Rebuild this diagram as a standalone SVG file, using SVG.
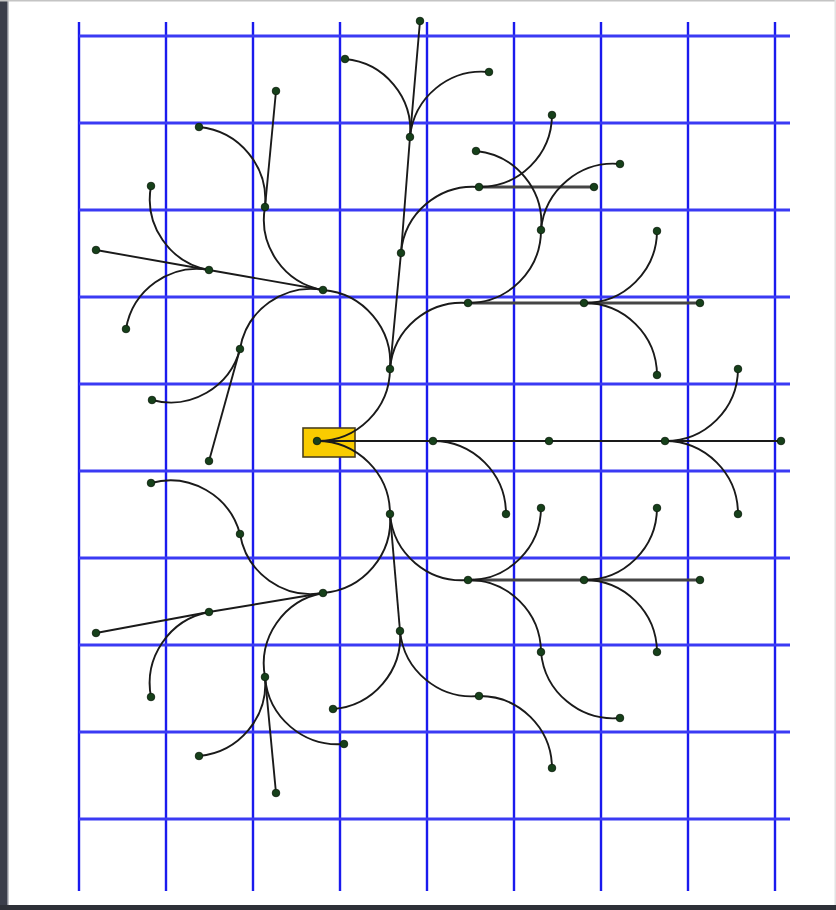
<svg xmlns="http://www.w3.org/2000/svg" width="836" height="910" viewBox="0 0 836 910">
<style>
.gv{stroke:#1a1aee;stroke-width:2.4;fill:none}
.gh{stroke:#3a3af4;stroke-width:2.8;fill:none}
.e{fill:none;stroke:#1a1a1a;stroke-width:1.9}
.t{fill:none;stroke:#454545;stroke-width:2.8}
.n{fill:#16401a;stroke:#0a1a0a;stroke-width:0.8}
</style>
<rect x="0" y="0" width="836" height="910" fill="#ffffff"/>
<rect x="0" y="0" width="8" height="910" fill="#3b3e4b"/>
<rect x="7" y="0" width="1.5" height="905" fill="#8a8c96"/>
<rect x="0" y="905" width="836" height="5" fill="#2e3038"/>
<rect x="0" y="0" width="836" height="1.5" fill="#c4c4c4"/>
<rect x="834.5" y="0" width="1.5" height="905" fill="#e2e2e2"/>
<g id="grid">
<path class="gv" d="M79,22V891M166,22V891M253,22V891M340,22V891M427,22V891M514,22V891M601,22V891M688,22V891M775,22V891"/>
<path class="gh" d="M79,36H790M79,123H790M79,210H790M79,297H790M79,384H790M79,471H790M79,558H790M79,645H790M79,732H790M79,819H790"/>
</g>
<g id="root">
<rect x="303" y="428" width="52" height="29" fill="#f9cc00" stroke="#4a4020" stroke-width="1.6"/>
</g>
<g id="connectors">
<path class="e" d="M317,441H433M433,441H549M549,441H665M665,441H781"/>
<path class="e" d="M390,369L401,253M401,253L410,137M410,137L420,21"/>
<path class="t" d="M479,187H594"/>
<path class="t" d="M468,303H584M584,303H700"/>
<path class="e" d="M323,290L209,270M209,270L96,250"/>
<path class="e" d="M265,207L276,91"/>
<path class="e" d="M240,349L209,461"/>
<path class="e" d="M390,514L400,631"/>
<path class="e" d="M323,593L209,612M209,612L96,633"/>
<path class="e" d="M265,677L276,793"/>
<path class="t" d="M468,580H584M584,580H700"/>
<path class="e" d="M317,441C357,441.3 389.7,409 390,369"/>
<path class="e" d="M317,441C357.3,441 390,473.7 390,514"/>
<path class="e" d="M390,369C393.3,328.7 363.3,293.3 323,290"/>
<path class="e" d="M390,369C393.3,329.2 428.2,299.7 468,303"/>
<path class="e" d="M401,253C404.3,213.2 439.2,183.7 479,187"/>
<path class="e" d="M410,137C413.6,97.5 384.5,62.6 345,59"/>
<path class="e" d="M410,137C413.9,97.2 449.2,68.1 489,72"/>
<path class="e" d="M479,187C519,187.3 551.7,155 552,115"/>
<path class="e" d="M468,303C508.3,303 541,270.3 541,230"/>
<path class="e" d="M541,230C544.9,190.2 515.8,154.9 476,151"/>
<path class="e" d="M541,230C544.6,190 580,160.4 620,164"/>
<path class="e" d="M584,303C624,303.3 656.7,271 657,231"/>
<path class="e" d="M584,303C624,302.7 656.7,335 657,375"/>
<path class="e" d="M323,290C284.1,283.1 258.1,245.9 265,207"/>
<path class="e" d="M323,290C283.8,283.4 246.6,309.8 240,349"/>
<path class="e" d="M265,207C268.9,166.7 239.3,130.9 199,127"/>
<path class="e" d="M209,270C169.8,262.8 143.8,225.2 151,186"/>
<path class="e" d="M209,270C169.8,263.4 132.6,289.8 126,329"/>
<path class="e" d="M240,349C229.8,387.4 190.4,410.2 152,400"/>
<path class="e" d="M433,441C473.3,441 506,473.7 506,514"/>
<path class="e" d="M665,441C705,441.3 737.7,409 738,369"/>
<path class="e" d="M665,441C705.3,441 738,473.7 738,514"/>
<path class="e" d="M390,514C393.3,554.3 363.3,589.7 323,593"/>
<path class="e" d="M390,514C393.3,553.8 428.2,583.3 468,580"/>
<path class="e" d="M323,593C283.8,599.6 246.6,573.2 240,534"/>
<path class="e" d="M240,534C229.5,495.3 189.7,472.5 151,483"/>
<path class="e" d="M323,593C283.8,600.2 257.8,637.8 265,677"/>
<path class="e" d="M209,612C169.5,619.5 143.5,657.5 151,697"/>
<path class="e" d="M265,677C268.6,717 239,752.4 199,756"/>
<path class="e" d="M265,677C268.3,717.3 303.7,747.3 344,744"/>
<path class="e" d="M400,631C403.9,670.8 439.2,699.9 479,696"/>
<path class="e" d="M400,631C403,671 373,706 333,709"/>
<path class="e" d="M479,696C519,695.7 551.7,728 552,768"/>
<path class="e" d="M468,580C508,580.3 540.7,548 541,508"/>
<path class="e" d="M468,580C508,579.7 540.7,612 541,652"/>
<path class="e" d="M541,652C544.6,692 580,721.6 620,718"/>
<path class="e" d="M584,580C624,580.3 656.7,548 657,508"/>
<path class="e" d="M584,580C624,579.7 656.7,612 657,652"/>
</g>
<g id="nodes">
<g id="R"><circle class="n" cx="317" cy="441" r="3.8"/></g>
<g id="A"><circle class="n" cx="390" cy="369" r="3.8"/></g>
<g id="B"><circle class="n" cx="433" cy="441" r="3.8"/></g>
<g id="C"><circle class="n" cx="390" cy="514" r="3.8"/></g>
<g id="D"><circle class="n" cx="401" cy="253" r="3.8"/></g>
<g id="E"><circle class="n" cx="410" cy="137" r="3.8"/></g>
<g id="E1"><circle class="n" cx="420" cy="21" r="3.8"/></g>
<g id="E2"><circle class="n" cx="345" cy="59" r="3.8"/></g>
<g id="E3"><circle class="n" cx="489" cy="72" r="3.8"/></g>
<g id="F"><circle class="n" cx="479" cy="187" r="3.8"/></g>
<g id="F1"><circle class="n" cx="594" cy="187" r="3.8"/></g>
<g id="F2"><circle class="n" cx="552" cy="115" r="3.8"/></g>
<g id="H"><circle class="n" cx="468" cy="303" r="3.8"/></g>
<g id="G"><circle class="n" cx="541" cy="230" r="3.8"/></g>
<g id="G1"><circle class="n" cx="476" cy="151" r="3.8"/></g>
<g id="G2"><circle class="n" cx="620" cy="164" r="3.8"/></g>
<g id="I"><circle class="n" cx="584" cy="303" r="3.8"/></g>
<g id="I1"><circle class="n" cx="700" cy="303" r="3.8"/></g>
<g id="I2"><circle class="n" cx="657" cy="231" r="3.8"/></g>
<g id="I3"><circle class="n" cx="657" cy="375" r="3.8"/></g>
<g id="J"><circle class="n" cx="323" cy="290" r="3.8"/></g>
<g id="K"><circle class="n" cx="265" cy="207" r="3.8"/></g>
<g id="K1"><circle class="n" cx="276" cy="91" r="3.8"/></g>
<g id="K2"><circle class="n" cx="199" cy="127" r="3.8"/></g>
<g id="L"><circle class="n" cx="209" cy="270" r="3.8"/></g>
<g id="L1"><circle class="n" cx="96" cy="250" r="3.8"/></g>
<g id="L2"><circle class="n" cx="151" cy="186" r="3.8"/></g>
<g id="L3"><circle class="n" cx="126" cy="329" r="3.8"/></g>
<g id="M"><circle class="n" cx="240" cy="349" r="3.8"/></g>
<g id="M1"><circle class="n" cx="209" cy="461" r="3.8"/></g>
<g id="M2"><circle class="n" cx="152" cy="400" r="3.8"/></g>
<g id="B1"><circle class="n" cx="506" cy="514" r="3.8"/></g>
<g id="N"><circle class="n" cx="549" cy="441" r="3.8"/></g>
<g id="O"><circle class="n" cx="665" cy="441" r="3.8"/></g>
<g id="O1"><circle class="n" cx="781" cy="441" r="3.8"/></g>
<g id="O2"><circle class="n" cx="738" cy="369" r="3.8"/></g>
<g id="O3"><circle class="n" cx="738" cy="514" r="3.8"/></g>
<g id="U"><circle class="n" cx="400" cy="631" r="3.8"/></g>
<g id="U1"><circle class="n" cx="479" cy="696" r="3.8"/></g>
<g id="U2"><circle class="n" cx="333" cy="709" r="3.8"/></g>
<g id="V1"><circle class="n" cx="552" cy="768" r="3.8"/></g>
<g id="W"><circle class="n" cx="468" cy="580" r="3.8"/></g>
<g id="W1"><circle class="n" cx="541" cy="508" r="3.8"/></g>
<g id="W2"><circle class="n" cx="541" cy="652" r="3.8"/></g>
<g id="X1"><circle class="n" cx="620" cy="718" r="3.8"/></g>
<g id="Y"><circle class="n" cx="584" cy="580" r="3.8"/></g>
<g id="Y1"><circle class="n" cx="700" cy="580" r="3.8"/></g>
<g id="Y2"><circle class="n" cx="657" cy="508" r="3.8"/></g>
<g id="Y3"><circle class="n" cx="657" cy="652" r="3.8"/></g>
<g id="P"><circle class="n" cx="323" cy="593" r="3.8"/></g>
<g id="Q"><circle class="n" cx="240" cy="534" r="3.8"/></g>
<g id="Q1"><circle class="n" cx="151" cy="483" r="3.8"/></g>
<g id="S"><circle class="n" cx="209" cy="612" r="3.8"/></g>
<g id="S1"><circle class="n" cx="96" cy="633" r="3.8"/></g>
<g id="S2"><circle class="n" cx="151" cy="697" r="3.8"/></g>
<g id="T"><circle class="n" cx="265" cy="677" r="3.8"/></g>
<g id="T1"><circle class="n" cx="276" cy="793" r="3.8"/></g>
<g id="T2"><circle class="n" cx="199" cy="756" r="3.8"/></g>
<g id="T3"><circle class="n" cx="344" cy="744" r="3.8"/></g>
</g>
</svg>
